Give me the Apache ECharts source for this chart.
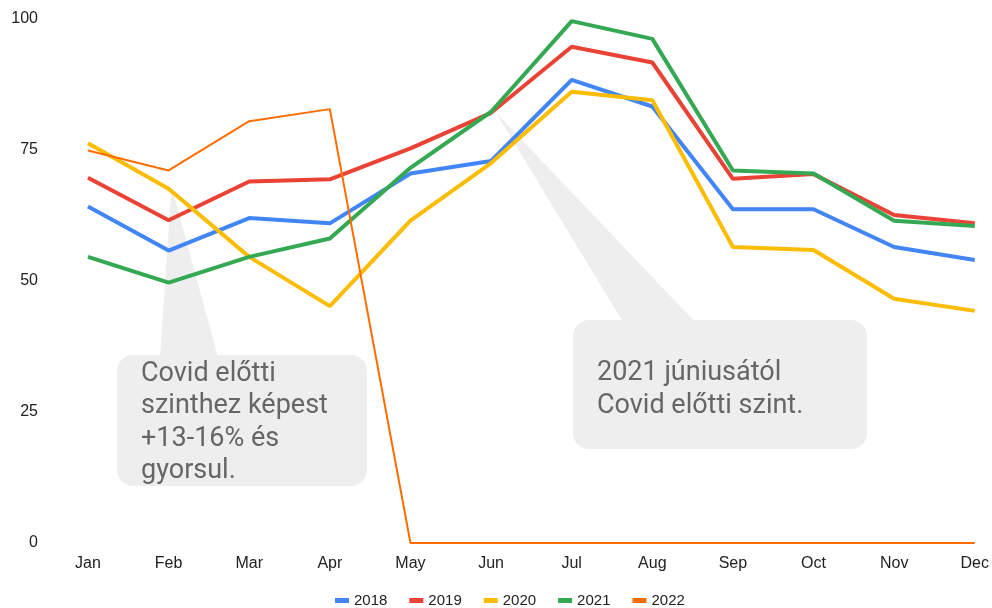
<!DOCTYPE html>
<html>
<head>
<meta charset="utf-8">
<script src="https://cdn.jsdelivr.net/npm/echarts@6/dist/echarts.min.js"></script>
<style>
  html, body { margin: 0; padding: 0; background: #fff; }
  #main { width: 992px; height: 608px; }
</style>
</head>
<body>
<div id="main"></div>
<script>
// havi adatok
var months = ['Jan', 'Feb', 'Mar', 'Apr', 'May', 'Jun', 'Jul', 'Aug', 'Sep', 'Oct', 'Nov', 'Dec'];
var years = ['2018', '2019', '2020', '2021', '2022'];
var v2018 = [64.2, 55.8, 62.0, 61.0, 70.5, 72.9, 88.4, 83.3, 63.7, 63.7, 56.5, 54.0];
var v2019 = [69.7, 61.6, 69.0, 69.4, 75.3, 82.1, 94.7, 91.7, 69.5, 70.4, 62.6, 61.0];
var v2020 = [76.3, 67.6, 54.6, 45.2, 61.5, 72.5, 86.1, 84.5, 56.5, 55.9, 46.6, 44.3];
var v2021 = [54.6, 49.7, 54.6, 58.1, 71.6, 82.3, 99.6, 96.2, 71.1, 70.5, 61.5, 60.5];
var v2022 = [74.9, 71.1, 80.5, 82.8, 0, 0, 0, 0, 0, 0, 0, 0];
var yTicks = [0, 25, 50, 75, 100];

var colors = ['#4285F4', '#EA4335', '#FBBC04', '#34A853', '#FF6D01'];
var allValues = [v2018, v2019, v2020, v2021, v2022];

var note1 = ['Covid előtti', 'szinthez képest', '+13-16% és', 'gyorsul.'];
var note2 = ['2021 júniusától', 'Covid előtti szint.'];

var myChart = echarts.init(document.getElementById('main'));

var series = [];
for (let i = 0; i < years.length; i++) {
  series.push({
    name: years[i],
    type: 'line',
    data: allValues[i],
    symbol: 'none',
    lineStyle: { width: i === 4 ? 2 : 4, color: colors[i] },
    itemStyle: { color: colors[i] },
    z: 2
  });
}

var option = {
  animation: false,
  backgroundColor: '#fff',
  textStyle: { fontFamily: 'Arial, "Liberation Sans", sans-serif' },
  grid: { left: 88, right: 17, top: 19, bottom: 65 },
  legend: {
    bottom: 0,
    left: 335,
    padding: 0,
    itemWidth: 14,
    itemHeight: 5,
    itemGap: 22,
    icon: 'rect',
    textStyle: { color: '#222', fontSize: 15 },
    data: years
  },
  xAxis: {
    type: 'category',
    boundaryGap: false,
    data: months,
    axisLine: { show: false },
    axisTick: { show: false },
    axisLabel: { color: '#222', fontSize: 16, margin: 13 }
  },
  yAxis: {
    type: 'value',
    min: yTicks[0],
    max: yTicks[yTicks.length - 1],
    interval: 25,
    splitLine: { show: false },
    axisLine: { show: false },
    axisTick: { show: false },
    axisLabel: { color: '#222', fontSize: 16, margin: 50, align: 'right' }
  },
  series: series
};
myChart.setOption(option);

// buborékok (megjegyzések)
function bubble(tip, box, base, lines, textX, firstY, lineH) {
  return {
    type: 'group',
    z: 100,
    children: [
      {
        type: 'polygon',
        shape: { points: [[base[0], box.y + 2], tip, [base[1], box.y + 2]] },
        style: { fill: '#eeeeee' }
      },
      {
        type: 'rect',
        shape: { x: box.x, y: box.y, width: box.w, height: box.h, r: 16 },
        style: { fill: '#eeeeee' }
      },
      {
        type: 'text',
        x: textX,
        y: firstY,
        style: {
          text: lines.join('\n'),
          fill: '#666',
          font: '27px Roboto, Arial, sans-serif',
          lineHeight: lineH,
          textVerticalAlign: 'top'
        }
      }
    ]
  };
}

var tip1 = myChart.convertToPixel({ gridIndex: 0 }, ['Feb', v2020[1]]);
var tip2 = myChart.convertToPixel({ gridIndex: 0 }, ['Jun', v2021[5]]);
tip1 = [tip1[0] + 3, tip1[1] - 2];
tip2 = [tip2[0] + 5, tip2[1] + 1];

myChart.setOption({
  graphic: [
    bubble(tip1, { x: 117, y: 355, w: 250, h: 131 }, [160, 218], note1, 141, 358, 32.3),
    bubble(tip2, { x: 573, y: 320, w: 294, h: 129 }, [623, 695], note2, 597, 357, 33)
  ]
});

window.addEventListener('resize', () => {
  if (myChart) {
    myChart.resize();
  }
});
</script>
</body>
</html>
